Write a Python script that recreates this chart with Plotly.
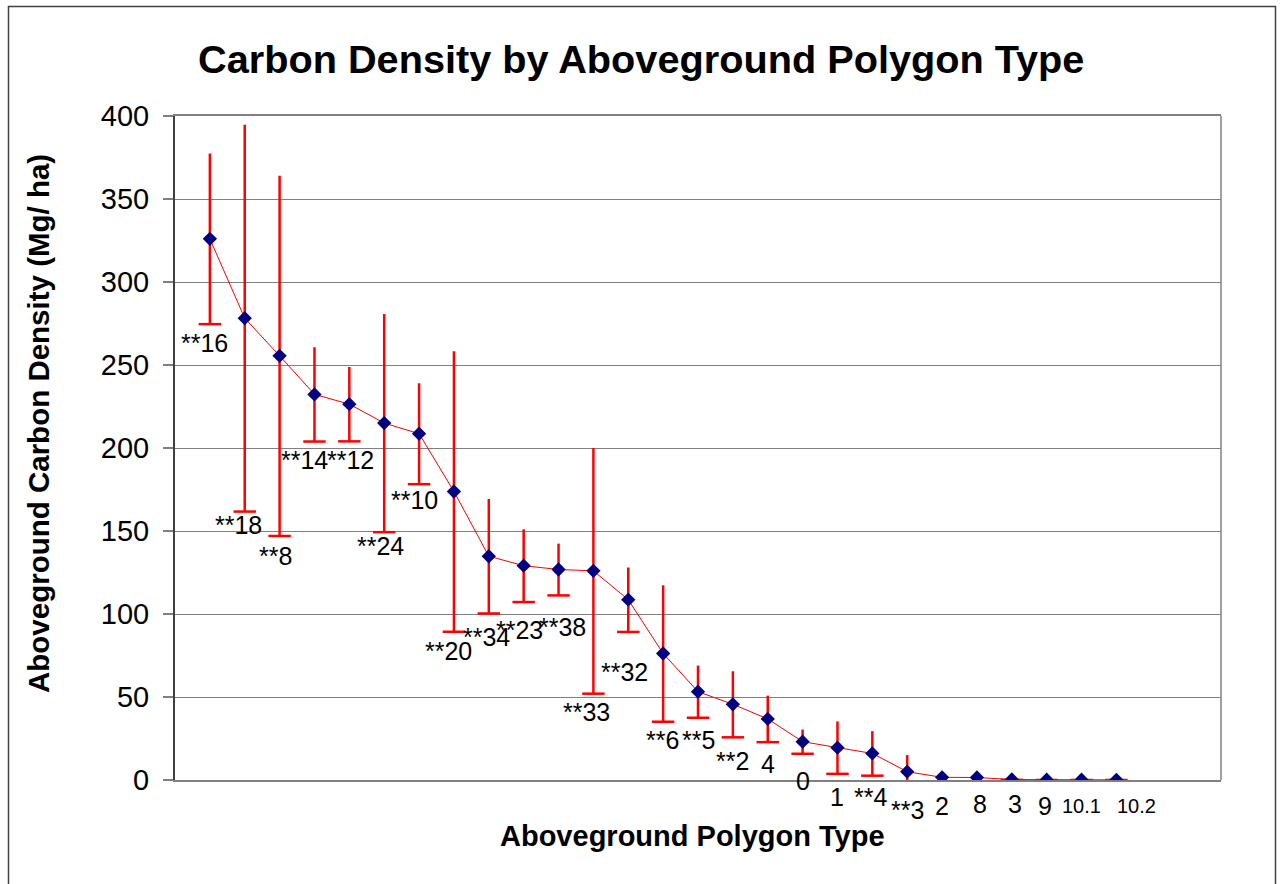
import plotly.graph_objects as go

# ---- data ----
categories = ["**16", "**18", "**8", "**14", "**12", "**24", "**10", "**20", "**34", "**23",
              "**38", "**33", "**32", "**6", "**5", "**2", "4", "0", "1", "**4",
              "**3", "2", "8", "3", "9", "10.1", "10.2"]
carbon = [326.0, 278.2, 255.5, 232.3, 226.4, 215.0, 208.6, 173.8, 134.8, 129.1,
          126.8, 126.0, 108.6, 76.2, 53.2, 45.6, 36.8, 23.1, 19.5, 16.0,
          5.0, 1.6, 1.5, 0.3, 0.2, 0.2, 0.1]
err = [51.4, 116.5, 108.5, 28.4, 22.4, 65.7, 30.4, 84.5, 34.5, 21.9,
       15.6, 74.0, 19.4, 41.1, 15.7, 19.9, 14.0, 7.3, 15.8, 13.4,
       10.0, 2.4, 2.4, 0.2, 0.2, 0.2, 0.1]
# data-label placement (offset along category axis, height in Mg/ha)
label_dx = [-0.14, -0.17, -0.11, -0.28, 0.04, -0.10, -0.13, -0.15, -0.07, -0.12,
            0.11, -0.20, -0.11, -0.03, 0.0, 0.0, 0.0, 0.0, 0.0, -0.04,
            0.0, 0.0, 0.1, 0.08, -0.06, 0.0, 0.58]
label_y = [263.3, 153.6, 134.9, 192.8, 192.8, 141.0, 168.7, 77.7, 86.1, 90.4,
           92.2, 41.0, 65.1, 24.1, 24.1, 11.4, 9.6, -0.6, -10.2, -10.2,
           -18.1, -15.7, -14.5, -14.5, -15.7, -15.7, -15.7]
label_size = [25] * 25 + [20, 20]
y_ticks = [0, 50, 100, 150, 200, 250, 300, 350, 400]
X_RANGE = [0, 30]
Y_RANGE = [0, 400]

xpos = list(range(1, len(categories) + 1))
lower = [v - e for v, e in zip(carbon, err)]

FONT = "Liberation Sans, Arial, sans-serif"
RED = "#FF0000"
NAVY = "#000080"

W, H = 1282, 884
ML, MR, MT, MB = 175, 61, 116, 104
PW, PH = W - ML - MR, H - MT - MB


def px_x(p):
    return (p - ML) / PW


def px_y(p):
    return (H - MB - p) / PH


def data_to_paper_x(v):
    return (v - X_RANGE[0]) / (X_RANGE[1] - X_RANGE[0])


def data_to_paper_y(v):
    return (v - Y_RANGE[0]) / (Y_RANGE[1] - Y_RANGE[0])


fig = go.Figure()

# lower caps of error bars
fig.add_trace(go.Scatter(
    x=xpos, y=lower, mode="markers",
    marker=dict(symbol="line-ew", size=16, color=RED, line=dict(color=RED, width=2.5)),
    hoverinfo="skip", showlegend=False,
))

# main series with error bars (no caps on top)
fig.add_trace(go.Scatter(
    x=xpos, y=carbon, mode="lines+markers",
    line=dict(color=RED, width=1),
    marker=dict(symbol="diamond", size=11, color=NAVY, line=dict(width=0)),
    error_y=dict(type="data", array=err, symmetric=True, color=RED, thickness=2.5, width=0),
    text=categories, showlegend=False,
))

annotations = []
for i, lab in enumerate(categories):
    annotations.append(dict(
        x=data_to_paper_x(xpos[i] + label_dx[i]), y=data_to_paper_y(label_y[i]),
        xref="paper", yref="paper",
        text=lab, showarrow=False, xanchor="center", yanchor="middle",
        font=dict(family=FONT, size=label_size[i], color="black"),
    ))

# title and axis titles
annotations.append(dict(
    x=px_x(641), y=px_y(59), xref="paper", yref="paper",
    text="<b>Carbon Density by Aboveground Polygon Type</b>", showarrow=False,
    xanchor="center", yanchor="middle", font=dict(family=FONT, size=39.7, color="black"),
))
annotations.append(dict(
    x=px_x(692), y=px_y(836), xref="paper", yref="paper",
    text="<b>Aboveground Polygon Type</b>", showarrow=False,
    xanchor="center", yanchor="middle", font=dict(family=FONT, size=29, color="black"),
))
annotations.append(dict(
    x=px_x(38), y=px_y(424), xref="paper", yref="paper",
    text="<b>Aboveground Carbon Density (Mg/ ha)</b>", showarrow=False, textangle=-90,
    xanchor="center", yanchor="middle", font=dict(family=FONT, size=29.5, color="black"),
))

shapes = [
    # right border of plot area
    dict(type="line", xref="paper", yref="paper", x0=1, x1=1, y0=0, y1=1,
         line=dict(color="#808080", width=1.5)),
    # outer chart border
    dict(type="rect", xref="paper", yref="paper",
         x0=px_x(8.5), x1=px_x(1275.5), y0=px_y(920), y1=px_y(6.5),
         line=dict(color="#404040", width=1.5)),
]

fig.update_layout(
    width=W, height=H,
    margin=dict(l=ML, r=MR, t=MT, b=MB, pad=0),
    paper_bgcolor="white", plot_bgcolor="white",
    showlegend=False,
    annotations=annotations, shapes=shapes,
    xaxis=dict(range=X_RANGE, showticklabels=False, showgrid=False, zeroline=False,
               showline=True, linecolor="#808080", linewidth=1.5, mirror=True, ticks=""),
    yaxis=dict(range=Y_RANGE, tickvals=y_ticks, showgrid=True, gridcolor="#808080", gridwidth=1,
               zeroline=False, showline=True, linecolor="#404040", linewidth=2,
               ticks="outside", ticklen=10, tickcolor="#808080", tickwidth=1.5,
               tickfont=dict(family=FONT, size=29, color="black"), ticklabelstandoff=8),
)

fig.write_html("out.html")
